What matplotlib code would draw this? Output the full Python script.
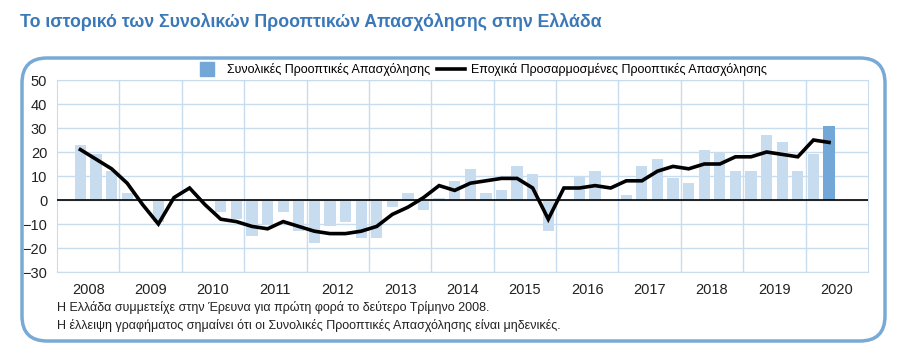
import matplotlib
matplotlib.use("Agg")
import matplotlib.pyplot as plt
from matplotlib.patches import FancyBboxPatch
from matplotlib.lines import Line2D

plt.rcParams["font.family"] = ["Liberation Sans", "DejaVu Sans"]

# quarters from 2008 Q2 to 2020 Q2
years = [str(y) for y in range(2008, 2021)]
quarters = list(range(1, 50))  # index 0 = 2008 Q1

total = [23, 19, 12,
         3, 0, -9, 0,
         0, 0, -5, -8,
         -15, -10, -5, -13,
         -18, -11, -9, -16,
         -16, -3, 3, -4,
         1, 8, 13, 3,
         4, 14, 11, -13,
         0, 10, 12, 0,
         2, 14, 17, 9,
         7, 21, 20, 12,
         12, 27, 24, 12,
         19, 31]

adjusted = [21, 17, 13,
            7, -2, -10, 1,
            5, -2, -8, -9,
            -11, -12, -9, -11,
            -13, -14, -14, -13,
            -11, -6, -3, 1,
            6, 4, 7, 8,
            9, 9, 5, -8,
            5, 5, 6, 5,
            8, 8, 12, 14,
            13, 15, 15, 18,
            18, 20, 19, 18,
            25, 24]

light_blue = "#c8dcef"
dark_blue = "#72a7d8"
grid_col = "#c9dcee"

fig = plt.figure(figsize=(9, 3.52), dpi=100)
ax = fig.add_axes([57 / 900, 1 - 272 / 352, 811 / 900, 192 / 352])

colors = [light_blue] * (len(total) - 1) + [dark_blue]
ax.bar(quarters, total, width=0.72, color=colors, zorder=2)
ax.plot(quarters, adjusted, color="black", lw=2.6, zorder=4,
        solid_joinstyle="miter")
ax.axhline(0, color="black", lw=1.2, zorder=3)

ax.set_xlim(-0.5, 51.5)
ax.set_ylim(-30, 50)
ax.set_yticks(range(-30, 51, 10))
ax.set_xticks([1.5 + 4 * i for i in range(len(years))])
ax.set_xticklabels(years)
ax.set_xticks([3.5 + 4 * i for i in range(len(years) - 1)], minor=True)
ax.grid(axis="y", color=grid_col, lw=1, zorder=0)
ax.grid(axis="x", which="minor", color=grid_col, lw=1, zorder=0)
ax.tick_params(axis="both", which="both", length=0, labelsize=10.5,
               colors="#222222")
ax.tick_params(axis="x", pad=8)
ax.tick_params(axis="y", pad=7)
for s in ax.spines.values():
    s.set_color(grid_col)

handles = [Line2D([0], [0], ls="none", marker="s", markersize=10,
                  markerfacecolor=dark_blue, markeredgecolor=dark_blue),
           Line2D([0], [0], color="black", lw=2.6)]
labels = ["Συνολικές Προοπτικές Απασχόλησης",
          "Εποχικά Προσαρμοσμένες Προοπτικές Απασχόλησης"]
fig.legend(handles, labels, loc="center", ncol=2, frameon=False,
           bbox_to_anchor=(480 / 900, 1 - 70 / 352), fontsize=9,
           handlelength=2.2, columnspacing=0.6, handletextpad=0.5)

fig.text(20 / 900, 1 - 22 / 352,
         "Το ιστορικό των Συνολικών Προοπτικών Απασχόλησης στην Ελλάδα",
         color="#3b78b8", fontsize=12.8, fontweight="bold", va="center")

fig.text(57 / 900, 1 - 307 / 352,
         "Η Ελλάδα συμμετείχε στην Έρευνα για πρώτη φορά το δεύτερο Τρίμηνο 2008.",
         fontsize=9, va="center", color="#222222")
fig.text(57 / 900, 1 - 326 / 352,
         "Η έλλειψη γραφήματος σημαίνει ότι οι Συνολικές Προοπτικές Απασχόλησης είναι μηδενικές.",
         fontsize=9, va="center", color="#222222")

box = FancyBboxPatch((0.22, 0.11), 8.63, 2.83,
                     boxstyle="round,pad=0,rounding_size=0.25",
                     transform=fig.dpi_scale_trans, fill=False,
                     edgecolor="#78aad6", lw=2.5, zorder=0)
fig.patches.append(box)

fig.savefig("out.png", dpi=100)
plt.close(fig)
